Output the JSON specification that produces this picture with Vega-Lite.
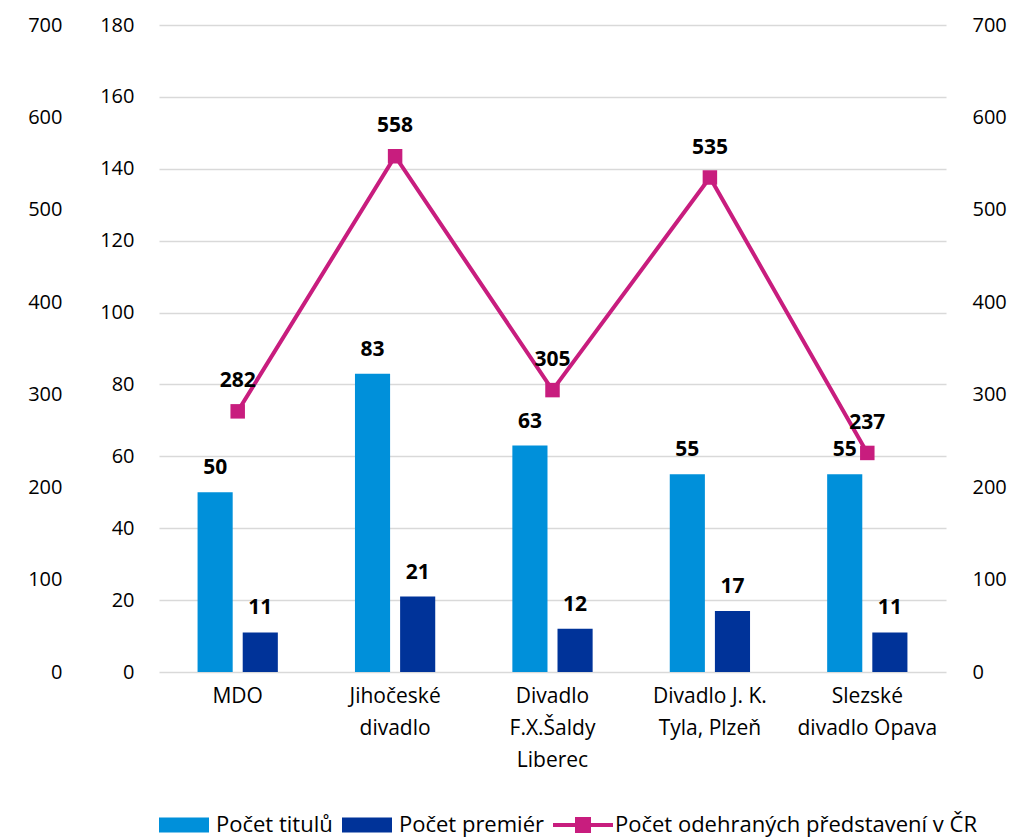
{
  "$schema": "https://vega.github.io/schema/vega-lite/v6.json",
  "width": 787,
  "height": 647,
  "autosize": "none",
  "padding": {"left": 159, "top": 25, "right": 68, "bottom": 165},
  "background": "white",
  "config": {
    "font": "Open Sans",
    "view": {"stroke": null},
    "axis": {"labelFont": "Open Sans", "labelFontSize": 20, "labelColor": "#000000", "domain": false, "ticks": false, "grid": false, "title": null},
    "legend": {"labelFont": "Open Sans"}
  },
  "datasets": {
    "bars": [
      {"divadlo": "MDO", "ukazatel": "Počet titulů", "hodnota": 50},
      {"divadlo": "MDO", "ukazatel": "Počet premiér", "hodnota": 11},
      {"divadlo": "Jihočeské\ndivadlo", "ukazatel": "Počet titulů", "hodnota": 83},
      {"divadlo": "Jihočeské\ndivadlo", "ukazatel": "Počet premiér", "hodnota": 21},
      {"divadlo": "Divadlo\nF.X.Šaldy\nLiberec", "ukazatel": "Počet titulů", "hodnota": 63},
      {"divadlo": "Divadlo\nF.X.Šaldy\nLiberec", "ukazatel": "Počet premiér", "hodnota": 12},
      {"divadlo": "Divadlo J. K.\nTyla, Plzeň", "ukazatel": "Počet titulů", "hodnota": 55},
      {"divadlo": "Divadlo J. K.\nTyla, Plzeň", "ukazatel": "Počet premiér", "hodnota": 17},
      {"divadlo": "Slezské\ndivadlo Opava", "ukazatel": "Počet titulů", "hodnota": 55},
      {"divadlo": "Slezské\ndivadlo Opava", "ukazatel": "Počet premiér", "hodnota": 11}
    ],
    "line": [
      {"divadlo": "MDO", "predstaveni": 282},
      {"divadlo": "Jihočeské\ndivadlo", "predstaveni": 558},
      {"divadlo": "Divadlo\nF.X.Šaldy\nLiberec", "predstaveni": 305},
      {"divadlo": "Divadlo J. K.\nTyla, Plzeň", "predstaveni": 535},
      {"divadlo": "Slezské\ndivadlo Opava", "predstaveni": 237}
    ]
  },
  "encoding": {
    "x": {
      "field": "divadlo",
      "type": "nominal",
      "sort": null,
      "title": null,
      "scale": {
        "domain": ["MDO", "Jihočeské\ndivadlo", "Divadlo\nF.X.Šaldy\nLiberec", "Divadlo J. K.\nTyla, Plzeň", "Slezské\ndivadlo Opava"],
        "paddingInner": 0.49,
        "paddingOuter": 0.245
      },
      "axis": {"labelAngle": 0, "labelExpr": "split(datum.label, '\\n')", "labelPadding": 24, "labelLineHeight": 32, "labelBaseline": "middle", "labelFontSize": 21}
    }
  },
  "layer": [
    {
      "data": {"name": "bars"},
      "mark": {"type": "bar"},
      "encoding": {
        "xOffset": {"field": "ukazatel", "type": "nominal", "sort": ["Počet titulů", "Počet premiér"], "scale": {"paddingInner": 0.222, "paddingOuter": 0}},
        "y": {
          "field": "hodnota", "type": "quantitative",
          "scale": {"domain": [0, 180], "nice": false},
          "axis": {"orient": "left", "values": [0, 20, 40, 60, 80, 100, 120, 140, 160, 180], "grid": true, "gridColor": "#d9d9d9", "gridWidth": 1.5, "labelPadding": 25}
        },
        "color": {
          "field": "ukazatel", "type": "nominal",
          "scale": {"domain": ["Počet titulů", "Počet premiér", "Počet odehraných představení v ČR"], "range": ["#0090DA", "#003399", "#C81D7E"]},
          "legend": {
            "orient": "bottom", "direction": "horizontal", "title": null,
            "labelFontSize": 22, "labelColor": "#000000", "labelLimit": 0, "symbolSize": 2500, "symbolStrokeWidth": 0,
            "columnPadding": 9, "labelOffset": 7, "offset": 30,
            "encode": {"symbols": {"update": {"shape": {"signal": "datum.index == 2 ? 'M-1.2,-0.08H-0.32V-0.32H0.32V-0.08H1.2V0.08H0.32V0.32H-0.32V0.08H-1.2Z' : 'M-1,-0.3H1V0.3H-1Z'"}}}}
          }
        }
      }
    },
    {
      "data": {"name": "bars"},
      "mark": {"type": "text", "fontWeight": "bold", "fontSize": 21, "baseline": "bottom", "dy": -14, "color": "#000000"},
      "encoding": {
        "xOffset": {"field": "ukazatel", "type": "nominal", "sort": ["Počet titulů", "Počet premiér"], "scale": {"paddingInner": 0.222, "paddingOuter": 0}},
        "y": {"field": "hodnota", "type": "quantitative", "scale": {"domain": [0, 180], "nice": false}, "axis": null},
        "text": {"field": "hodnota", "type": "quantitative"}
      }
    },
    {
      "data": {"name": "line"},
      "mark": {"type": "line", "color": "#C81D7E", "strokeWidth": 4},
      "encoding": {
        "y": {
          "field": "predstaveni", "type": "quantitative",
          "scale": {"domain": [0, 700], "nice": false},
          "axis": {"orient": "right", "values": [0, 100, 200, 300, 400, 500, 600, 700], "labelPadding": 26, "labelAlign": "left"}
        }
      }
    },
    {
      "data": {"name": "line"},
      "mark": {"type": "point", "shape": "square", "filled": true, "size": 210, "color": "#C81D7E", "opacity": 1},
      "encoding": {
        "y": {"field": "predstaveni", "type": "quantitative", "scale": {"domain": [0, 700], "nice": false}, "axis": null}
      }
    },
    {
      "data": {"name": "line"},
      "mark": {"type": "text", "fontWeight": "bold", "fontSize": 21, "baseline": "bottom", "dy": -20, "color": "#000000"},
      "encoding": {
        "y": {
          "field": "predstaveni", "type": "quantitative",
          "scale": {"domain": [0, 700], "nice": false},
          "axis": {"orient": "left", "values": [0, 100, 200, 300, 400, 500, 600, 700], "offset": 73, "labelPadding": 24}
        },
        "text": {"field": "predstaveni", "type": "quantitative"}
      }
    }
  ],
  "resolve": {"scale": {"y": "independent"}}
}
